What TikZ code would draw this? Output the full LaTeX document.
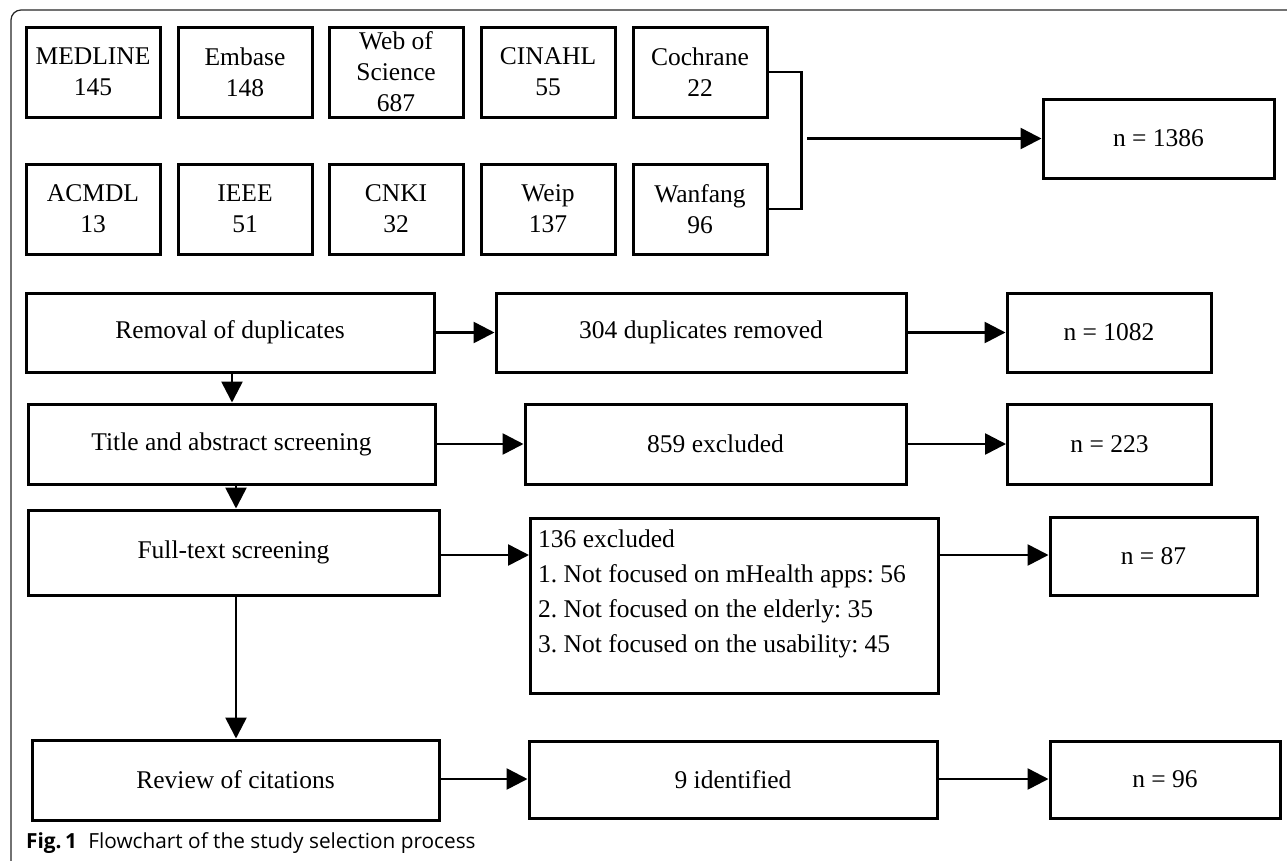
\documentclass[tikz,border=0pt]{standalone}
\usepackage{fontspec}
\setmainfont{Liberation Serif}
\newfontfamily\capfont{Open Sans}
\usetikzlibrary{arrows.meta}
\frenchspacing
\begin{document}
\begin{tikzpicture}[x=1pt,y=-1pt,
  box/.style={draw=black,line width=3pt,rectangle,inner sep=0pt,align=center,
    font=\fontsize{25.5}{31}\selectfont},
  arr/.style={line width=2.6pt,-{Triangle[length=21pt,width=21pt]}},
  link/.style={line width=2.6pt}]
\useasboundingbox (0,0) rectangle (1287,860);
\begin{scope}
\clip (0,0) rectangle (1287,860);
\draw[line width=1.2pt,draw=black!85,rounded corners=10pt] (11,10) rectangle (1320,890);
\end{scope}
% databases
\foreach \n/\x/\t in {medline/93/{MEDLINE\\145},embase/245/{Embase\\148},wos/396/{Web of\\Science\\687},cinahl/548/{CINAHL\\55},coch/700/{Cochrane\\22}}
  \node[box,minimum width=134pt,minimum height=90pt] (\n) at (\x,72) {\t};
\foreach \n/\x/\t in {acmdl/93/{ACMDL\\13},ieee/245/{IEEE\\51},cnki/396/{CNKI\\32},weip/548/{Weip\\137},wanf/700/{Wanfang\\96}}
  \node[box,minimum width=134pt,minimum height=90pt] (\n) at (\x,209) {\t};
\node[box,minimum width=231pt,minimum height=79pt] (n1386) at (1158.5,138.5) {n = 1386};
\draw[link] (coch.east) -- ++(33,0) |- (wanf.east);
\coordinate (j) at (807,138.5);
\draw[arr] (j) -- (n1386.west);
% row: removal
\node[box,minimum width=408pt,minimum height=79pt] (rem) at (230,332.5) {Removal of duplicates};
\node[box,minimum width=410pt,minimum height=79pt] (dup) at (701,332.5) {304 duplicates removed};
\node[box,minimum width=204pt,minimum height=79pt] (n1082) at (1109,332.5) {n = 1082};
\draw[arr] (rem) -- (dup);
\draw[arr] (dup) -- (n1082);
% row: title
\node[box,minimum width=407pt,minimum height=80pt] (title) at (231.5,444) {Title and abstract screening};
\node[box,minimum width=381pt,minimum height=80pt] (ex859) at (715.5,444) {859 excluded};
\node[box,minimum width=204pt,minimum height=80pt] (n223) at (1109.5,444) {n = 223};
\draw[arr] (rem.south -| 232,0) -- (title.north -| 232,0);
\draw[arr] (title) -- (ex859);
\draw[arr] (ex859) -- (n223);
% row: full text
\node[box,minimum width=411pt,minimum height=85pt] (ft) at (233.5,552.5) {Full-text screening};
\node[box,minimum width=408pt,minimum height=175pt,anchor=north west] (ex136) at (529,517) {};
\node[anchor=base west,font=\fontsize{25.5}{35}\selectfont,align=left,inner sep=0pt] (ex136t) at (538,652)
  {136 excluded\\1. Not focused on mHealth apps: 56\\2. Not focused on the elderly: 35\\3. Not focused on the usability: 45};
\node[box,minimum width=207pt,minimum height=78pt] (n87) at (1153.5,556) {n = 87};
\draw[arr] (title.south -| 236,0) -- (ft.north -| 236,0);
\draw[arr] (ft.east |- 0,555) -- (ex136.west |- 0,555);
\draw[arr] (ex136.east |- 0,555) -- (n87.west |- 0,555);
% row: review
\node[box,minimum width=407pt,minimum height=80pt] (rev) at (235.5,780) {Review of citations};
\node[box,minimum width=408pt,minimum height=77pt] (id9) at (733,779.5) {9 identified};
\node[box,minimum width=230pt,minimum height=77pt] (n96) at (1165,779.5) {n = 96};
\draw[arr] (ft.south -| 236,0) -- (rev.north -| 236,0);
\draw[arr] (rev.east |- 0,779) -- (id9.west |- 0,779);
\draw[arr] (id9.east |- 0,779) -- (n96.west |- 0,779);
% caption
\node[anchor=base west,inner sep=0pt,font=\capfont\fontsize{20.8}{24}\selectfont] (cap) at (26,848)
  {\textbf{Fig.\,1}\hspace{0.55em}Flowchart of the study selection process};
\end{tikzpicture}
\end{document}
